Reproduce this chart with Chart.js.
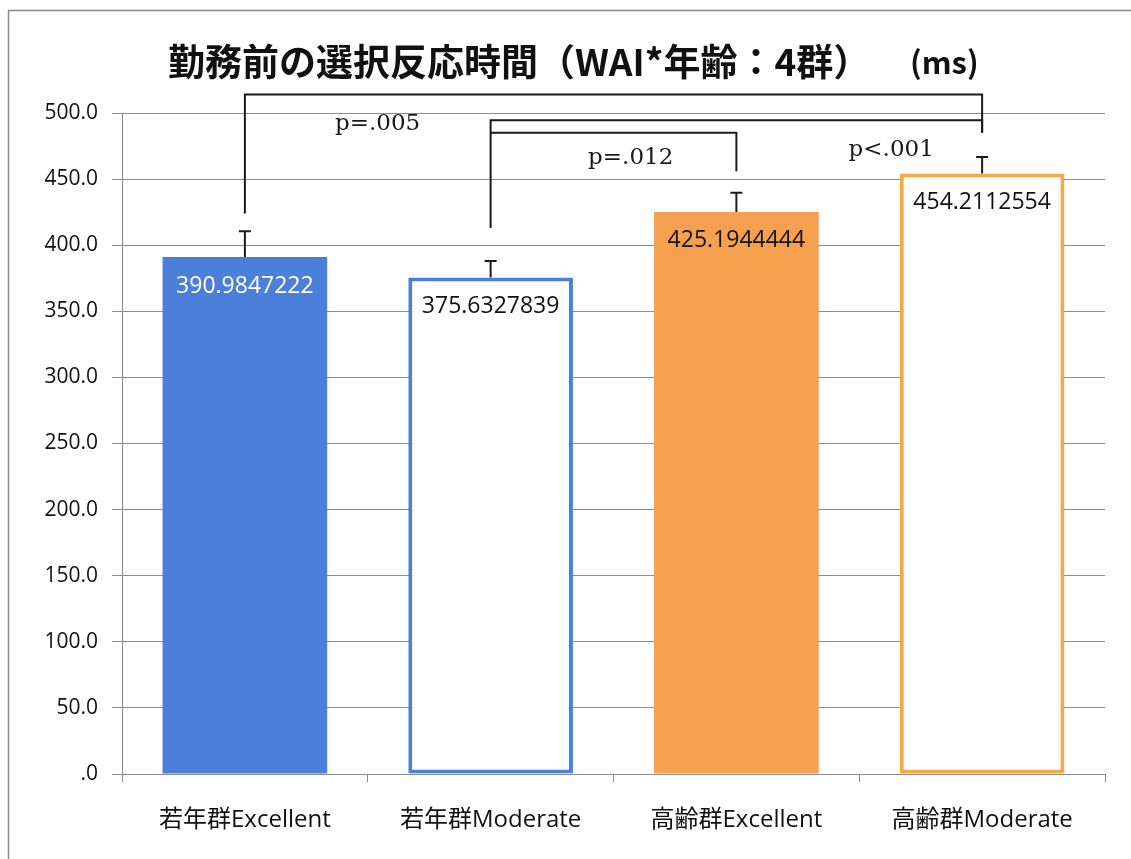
<!DOCTYPE html>
<html>
<head>
<meta charset="utf-8">
<script src="https://cdn.jsdelivr.net/npm/chart.js@4/dist/chart.umd.min.js"></script>
<style>
  html, body { margin: 0; padding: 0; background: #fff; }
  #wrap { width: 1131px; height: 859px; position: relative; }
</style>
</head>
<body>
<div id="wrap"><canvas id="chart-rt" width="1131" height="859"></canvas></div>
<script>
const categories = ['若年群Excellent', '若年群Moderate', '高齢群Excellent', '高齢群Moderate'];
const means = [390.9847222, 375.6327839, 425.1944444, 454.2112554];
const errors = [19.5, 12.5, 14.5, 12.5];
const yTickLabels = ['.0', '50.0', '100.0', '150.0', '200.0', '250.0', '300.0', '350.0', '400.0', '450.0', '500.0'];

const fillColors = ['#4c7fda', '#ffffff', '#f4a04e', '#ffffff'];
const edgeColors = ['#4c7fda', '#4a7fdf', '#f4a04e', '#f6a845'];
const edgeWidths = [0, 4, 0, 4];
const valueColors = ['#ffffff', '#111111', '#111111', '#111111'];

// significance brackets (bar indices, heights in ms)
const brackets = [
  { from: 0, to: 3, top: 514, fromEnd: 424, toEnd: 485 },
  { from: 1, to: 3, top: 494.5, fromEnd: 413, toEnd: 485 },
  { from: 1, to: 2, top: 485, fromEnd: 485, toEnd: 456 },
];
const pLabels = [
  { text: 'p=.005', at: 0.54, value: 492 },
  { text: 'p=.012', at: 1.57, value: 466 },
  { text: 'p<.001', at: 2.63, value: 472 },
];

const titleText = '勤務前の選択反応時間（WAI*年齢：4群）';
const unitText = '(ms)';

const GRID = '#8c8c8c';
const INK = '#1a1a1a';

// frame, title, error bars, value labels and brackets
const decorations = {
  id: 'decorations',
  beforeDraw(chart) {
    const ctx = chart.ctx;
    ctx.save();
    ctx.strokeStyle = '#8a8a8a';
    ctx.lineWidth = 1.5;
    ctx.beginPath();
    ctx.moveTo(8.5, chart.height);
    ctx.lineTo(8.5, 10.5);
    ctx.lineTo(chart.width, 10.5);
    ctx.stroke();
    ctx.restore();
  },
  afterDraw(chart) {
    const ctx = chart.ctx;
    const x = chart.scales.x;
    const y = chart.scales.y;
    const meta = chart.getDatasetMeta(0);

    ctx.save();
    // title
    ctx.fillStyle = '#111';
    ctx.textBaseline = 'middle';
    ctx.textAlign = 'left';
    ctx.font = 'bold 37px "Noto Sans CJK JP", sans-serif';
    ctx.fillText(titleText, 168, 62);
    ctx.font = 'bold 31px "Noto Sans CJK JP", sans-serif';
    ctx.fillText(unitText, 910, 62);

    // error bars (upper only)
    ctx.strokeStyle = INK;
    ctx.lineWidth = 2;
    meta.data.forEach((bar, i) => {
      const top = y.getPixelForValue(means[i] + errors[i]);
      ctx.beginPath();
      ctx.moveTo(bar.x, bar.y);
      ctx.lineTo(bar.x, top);
      ctx.moveTo(bar.x - 6, top);
      ctx.lineTo(bar.x + 6, top);
      ctx.stroke();
    });

    // value labels inside the bars
    ctx.font = '23px "Open Sans", sans-serif';
    ctx.textAlign = 'center';
    meta.data.forEach((bar, i) => {
      ctx.fillStyle = valueColors[i];
      ctx.fillText(String(means[i]), bar.x, bar.y + 29);
    });

    // brackets
    ctx.strokeStyle = INK;
    ctx.lineWidth = 2;
    brackets.forEach(b => {
      const x0 = x.getPixelForValue(b.from);
      const x1 = x.getPixelForValue(b.to);
      ctx.beginPath();
      ctx.moveTo(x0, y.getPixelForValue(b.fromEnd));
      ctx.lineTo(x0, y.getPixelForValue(b.top));
      ctx.lineTo(x1, y.getPixelForValue(b.top));
      ctx.lineTo(x1, y.getPixelForValue(b.toEnd));
      ctx.stroke();
    });

    ctx.fillStyle = INK;
    ctx.font = '23px "DejaVu Serif", serif';
    pLabels.forEach(p => {
      ctx.fillText(p.text, x.getPixelForValue(p.at), y.getPixelForValue(p.value));
    });
    ctx.restore();
  },
};

new Chart(document.getElementById('chart-rt'), {
  type: 'bar',
  data: {
    labels: categories,
    datasets: [{
      data: means,
      backgroundColor: fillColors,
      borderColor: edgeColors,
      borderWidth: edgeWidths,
      borderSkipped: false,
      categoryPercentage: 1,
      barPercentage: 0.67,
    }],
  },
  options: {
    responsive: false,
    animation: false,
    layout: { padding: { top: 113, right: 26, left: 0, bottom: 0 } },
    plugins: {
      legend: { display: false },
      tooltip: { enabled: false },
      title: { display: false },
    },
    scales: {
      x: {
        grid: { drawOnChartArea: false, drawTicks: true, tickLength: 8, color: GRID, offset: true },
        border: { color: GRID, width: 1 },
        ticks: {
          color: '#111',
          padding: 24,
          font: { family: '"Open Sans", "Noto Sans CJK JP", sans-serif', size: 24 },
        },
        afterFit: (scale) => { scale.height = 85; },
      },
      y: {
        min: 0,
        max: 500,
        ticks: {
          stepSize: 50,
          color: '#111',
          padding: 14,
          font: { family: '"Open Sans", sans-serif', size: 21 },
          callback: (v, i) => yTickLabels[i],
        },
        grid: { color: GRID, tickLength: 10, lineWidth: 1 },
        border: { color: GRID, width: 1 },
        afterFit: (scale) => { scale.width = 122; },
      },
    },
  },
  plugins: [decorations],
});
</script>
</body>
</html>
